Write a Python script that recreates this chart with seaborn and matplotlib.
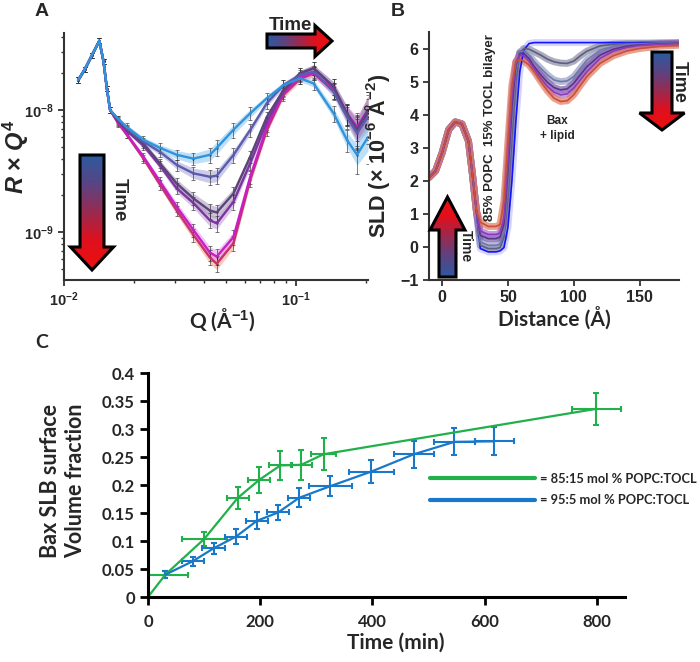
import numpy as np
import pandas as pd
import matplotlib
matplotlib.use('Agg')
import matplotlib.pyplot as plt
import seaborn as sns
from matplotlib.colors import LinearSegmentedColormap
from matplotlib.patches import Polygon
from matplotlib.lines import Line2D

# ---- panel A: R*Q^4 vs Q, fits ----
q = [0.0115, 0.0123, 0.0132, 0.0142, 0.0148, 0.0153, 0.0158,
     0.0171, 0.0186, 0.0220, 0.0259, 0.0306, 0.0361, 0.0425, 0.0455, 0.0537,
     0.0634, 0.0748, 0.0882, 0.104, 0.119, 0.145, 0.1655, 0.183, 0.204]
rq4_head = [1.76e-8, 2.16e-8, 2.82e-8, 3.7e-8, 2.5e-8, 1.5e-8, 1.0e-8]
rq4_blue = rq4_head + [8.5e-9, 7.3e-9, 5.7e-9, 4.9e-9, 4.3e-9, 4.0e-9, 4.3e-9, 4.9e-9, 6.9e-9,
                       9.4e-9, 1.25e-8, 1.6e-8, 1.82e-8, 1.65e-8, 9.4e-9, 5.7e-9, 4.3e-9, 6.0e-9]
rq4_slate = rq4_head + [8.4e-9, 7.1e-9, 5.5e-9, 4.55e-9, 3.55e-9, 3.03e-9, 2.84e-9, 2.9e-9, 4.28e-9,
                        6.86e-9, 1.14e-8, 1.6e-8, 1.94e-8, 2.06e-8, 1.41e-8, 8.8e-9, 6.44e-9, 8.8e-9]
rq4_dark = rq4_head + [8.2e-9, 6.9e-9, 5.3e-9, 3.66e-9, 2.5e-9, 1.89e-9, 1.5e-9, 1.45e-9, 2.07e-9,
                       4.15e-9, 8.8e-9, 1.46e-8, 2.0e-8, 2.2e-8, 1.55e-8, 9.4e-9, 6.9e-9, 1.0e-8]
rq4_purple = rq4_head + [8.1e-9, 6.8e-9, 5.1e-9, 3.5e-9, 2.28e-9, 1.73e-9, 1.25e-9, 1.18e-9, 1.77e-9,
                         3.66e-9, 8.0e-9, 1.42e-8, 2.0e-8, 2.2e-8, 1.55e-8, 9.2e-9, 6.7e-9, 9.5e-9]
rq4_magenta = rq4_head + [7.9e-9, 6.4e-9, 4.14e-9, 2.6e-9, 1.61e-9, 1.04e-9, 6.8e-10, 6.3e-10, 9.1e-10,
                          2.84e-9, 7.3e-9, 1.37e-8, 1.87e-8, 2.0e-8, 1.46e-8, 9.4e-9, 7.3e-9, 1.0e-8]
rq4_orange = rq4_head + [7.8e-9, 6.3e-9, 4.0e-9, 2.45e-9, 1.5e-9, 9.5e-10, 6.2e-10, 5.5e-10, 8.1e-10,
                         2.67e-9, 6.86e-9, 1.33e-8, 1.8e-8, 2.0e-8, 1.46e-8, 9.2e-9, 7.0e-9, 1.0e-8]
# relative data error and fit band half width along q
rel_err = [0.06, 0.05, 0.05, 0.05, 0.05, 0.05, 0.05, 0.06, 0.07, 0.08, 0.09, 0.1, 0.12,
           0.14, 0.15, 0.14, 0.12, 0.1, 0.1, 0.1, 0.12, 0.15, 0.2, 0.3, 0.4]
rel_band = [0.03, 0.03, 0.03, 0.03, 0.03, 0.03, 0.03, 0.03, 0.04, 0.05, 0.06, 0.08, 0.1,
            0.12, 0.12, 0.1, 0.08, 0.06, 0.06, 0.06, 0.07, 0.1, 0.15, 0.22, 0.3]

# ---- panel B: SLD profiles ----
sld_x = [-10, -5, 0, 5, 10, 15, 20, 23, 26,
         29, 35, 41, 44, 47, 50, 53, 56, 59, 62, 66, 70, 75, 80, 85, 90, 95,
         100, 105, 110, 120, 130, 140, 150, 165, 180]
sld_head = [2.1, 2.3, 2.85, 3.55, 3.78, 3.72, 3.2, 2.2, 1.1]
sld_blue = sld_head + [-0.05, -0.15, -0.15, -0.12, -0.02, 0.6, 2.0, 3.8, 5.3, 5.95, 6.15, 6.18, 6.18,
                       6.18, 6.18, 6.18, 6.18, 6.18, 6.18, 6.18, 6.18, 6.18, 6.18, 6.18, 6.18, 6.18]
sld_grey = sld_head + [0.05, -0.05, -0.05, -0.02, 0.3, 1.5, 3.3, 5.0, 5.85, 6.0, 5.98, 5.9, 5.8,
                       5.68, 5.6, 5.56, 5.55, 5.62, 5.78, 5.92, 6.08, 6.13, 6.15, 6.15, 6.16, 6.17]
sld_slate = sld_head + [0.15, 0.05, 0.05, 0.08, 0.45, 1.9, 3.8, 5.3, 5.9, 5.92, 5.8, 5.6, 5.4,
                        5.2, 5.05, 5.0, 5.02, 5.15, 5.4, 5.65, 5.95, 6.07, 6.12, 6.14, 6.16, 6.17]
sld_dark = sld_head + [0.35, 0.25, 0.25, 0.3, 0.7, 2.3, 4.2, 5.5, 5.85, 5.85, 5.7, 5.45, 5.2,
                       4.98, 4.82, 4.75, 4.78, 4.95, 5.2, 5.45, 5.8, 5.98, 6.07, 6.11, 6.14, 6.16]
sld_purple = sld_head + [0.48, 0.38, 0.38, 0.42, 0.9, 2.6, 4.5, 5.6, 5.8, 5.78, 5.62, 5.38, 5.1,
                         4.85, 4.68, 4.6, 4.63, 4.8, 5.05, 5.3, 5.7, 5.92, 6.03, 6.09, 6.13, 6.15]
sld_red = sld_head + [0.75, 0.62, 0.62, 0.68, 1.4, 3.2, 4.9, 5.6, 5.68, 5.62, 5.5, 5.3, 5.0,
                      4.72, 4.5, 4.4, 4.42, 4.6, 4.88, 5.15, 5.55, 5.78, 5.92, 6.0, 6.07, 6.1]

# ---- panel C: Bax volume fraction vs time ----
t_85 = [0, 31, 100, 160, 198, 236, 273, 313, 799]
v_85 = [0, 0.040, 0.1035, 0.177, 0.209, 0.235, 0.236, 0.255, 0.336]
terr_85 = [0, 40, 40, 20, 20, 20, 19, 22, 44]
verr_85 = [0, 0.006, 0.012, 0.02, 0.024, 0.026, 0.027, 0.029, 0.028]
t_95 = [31, 80, 117, 157, 194, 232, 269, 325, 398, 474, 546, 617]
v_95 = [0.040, 0.064, 0.087, 0.108, 0.136, 0.151, 0.177, 0.198, 0.224, 0.255, 0.277, 0.278]
terr_95 = [0, 20, 20, 20, 20, 20, 19, 38, 40, 36, 37, 35]
verr_95 = [0.006, 0.008, 0.01, 0.013, 0.015, 0.014, 0.017, 0.018, 0.02, 0.024, 0.024, 0.025]
legend_labels = ['= 85:15 mol % POPC:TOCL', '= 95:5 mol % POPC:TOCL']

W, H = 700, 662
time_cmap = LinearSegmentedColormap.from_list('time', ['#2c5aa0', '#5a4482', '#9a2a50', '#e0101c', '#ea1010'])


def rect(l, t, r, b):
    return [l / W, 1 - b / H, (r - l) / W, (b - t) / H]


def style_axis(ax, lw=1.5, color='#333333'):
    sns.despine(ax=ax)
    for s in ['left', 'bottom']:
        ax.spines[s].set_linewidth(lw)
        ax.spines[s].set_color(color)
    ax.tick_params(which='major', direction='out', length=4, width=1.3, color=color)
    ax.tick_params(which='minor', direction='out', length=2.5, width=1.0, color=color)


def grad_arrow(ax, tail, head, body_w, head_w, head_len):
    tail = np.array(tail, float)
    head = np.array(head, float)
    d = head - tail
    L = np.hypot(d[0], d[1])
    u = d / L
    n = np.array([-u[1], u[0]])
    base = head - u * head_len
    pts = [tail + n * body_w / 2, base + n * body_w / 2, base + n * head_w / 2, head,
           base - n * head_w / 2, base - n * body_w / 2, tail - n * body_w / 2]
    xs = [p[0] for p in pts]
    ys = [p[1] for p in pts]
    x0, x1, y0, y1 = min(xs), max(xs), min(ys), max(ys)
    gx, gy = np.meshgrid(np.linspace(x0, x1, 120), np.linspace(y0, y1, 120))
    t = ((gx - tail[0]) * u[0] + (gy - tail[1]) * u[1]) / L
    im = ax.imshow(t, cmap=time_cmap, vmin=0, vmax=1, extent=(x0, x1, y1, y0),
                   origin='upper', aspect='auto', zorder=2)
    poly = Polygon(pts, closed=True, fc='none', ec='black', lw=2.2, joinstyle='miter', zorder=3)
    ax.add_patch(poly)
    im.set_clip_path(poly)


sns.set_style('ticks')
plt.rcParams['font.family'] = ['Liberation Sans', 'DejaVu Sans']
plt.rcParams['font.weight'] = 'bold'
plt.rcParams['axes.labelweight'] = 'bold'
plt.rcParams['mathtext.fontset'] = 'custom'
plt.rcParams['mathtext.rm'] = 'Liberation Sans:bold'
plt.rcParams['mathtext.it'] = 'Liberation Sans:italic:bold'
plt.rcParams['mathtext.bf'] = 'Liberation Sans:bold'
plt.rcParams['mathtext.default'] = 'rm'

fig = plt.figure(figsize=(W / 100, H / 100), dpi=100)

# ---------------- A ----------------
ax = fig.add_axes(rect(64, 33, 368, 280))
curves_a = [rq4_orange, rq4_magenta, rq4_purple, rq4_dark, rq4_slate, rq4_blue]
names_a = ['t6', 't5', 't4', 't3', 't2', 't1']
lines_a = ['#c8306e', '#c81ec8', '#7a35a0', '#5c4478', '#5a5cae', '#2f94dc']
bands_a = ['#ec9a78', '#e48ae4', '#b48cd0', '#9c8cb4', '#9a98d4', '#7cc0f0']
qa = np.array(q)
for vals, bc in zip(curves_a, bands_a):
    v = np.array(vals)
    b = np.array(rel_band)
    ax.fill_between(qa, v / (1 + b), v * (1 + b), color=bc, alpha=0.5, lw=0, zorder=1)
for vals in curves_a:
    v = np.array(vals)
    ax.errorbar(qa, v, yerr=v * np.array(rel_err), fmt='.', ms=1.5, color='#222222',
                ecolor='#333333', elinewidth=0.6, capsize=1.6, capthick=0.6, alpha=0.75, zorder=2)
fits = pd.DataFrame({'Q': list(q) * len(curves_a),
                     'R': sum(curves_a, []),
                     'run': np.repeat(names_a, len(q))})
sns.lineplot(data=fits, x='Q', y='R', hue='run', palette=dict(zip(names_a, lines_a)),
             estimator=None, sort=False, lw=1.7, legend=False, ax=ax, zorder=3)
ax.set_xscale('log')
ax.set_yscale('log')
ax.set_xlim(0.01, 0.204)
ax.set_ylim(4.05e-10, 4.28e-8)
style_axis(ax)
ax.tick_params(labelsize=10.5)
ax.set_xlabel('Q (Å$^{-1}$)', fontsize=15, fontfamily='Lato')
ax.set_ylabel(r'$\mathit{R}$ × $\mathit{Q}^{4}$', fontsize=17)
ax.xaxis.set_label_coords(0.52, -0.105)
ax.yaxis.set_label_coords(-0.108, 0.5)

# ---------------- B ----------------
axb = fig.add_axes(rect(429, 32, 679, 280))
curves_b = [sld_blue, sld_grey, sld_slate, sld_dark, sld_purple, sld_red]
names_b = ['p0', 'p1', 'p2', 'p3', 'p4', 'p5']
lines_b = ['#1414ff', '#5e5e80', '#7078a8', '#56368a', '#8a3cb8', '#c8503c']
bands_b = ['#c4c4ff', '#8a8aa4', '#98a0c8', '#7a5aa8', '#a870d0', '#e0785c']
prof = pd.DataFrame({'z': list(sld_x) * len(curves_b),
                     'sld': sum(curves_b, []),
                     'run': np.repeat(names_b, len(sld_x))})
sns.lineplot(data=prof, x='z', y='sld', hue='run', palette=dict(zip(names_b, bands_b)),
             estimator=None, sort=False, lw=5, alpha=0.7, legend=False, ax=axb)
sns.lineplot(data=prof, x='z', y='sld', hue='run', palette=dict(zip(names_b, lines_b)),
             estimator=None, sort=False, lw=1.2, legend=False, ax=axb)
axb.set_xlim(-10, 180)
axb.set_ylim(-1, 6.5)
axb.set_xticks([0, 50, 100, 150])
axb.set_yticks(range(-1, 7))
style_axis(axb)
axb.tick_params(labelsize=11.5)
axb.set_xlabel('Distance (Å)', fontsize=15, fontfamily='Lato')
axb.set_ylabel('SLD (× 10$^{-6}$ Å$^{-2}$)', fontsize=15.5)
axb.xaxis.set_label_coords(0.5, -0.105)
axb.yaxis.set_label_coords(-0.15, 0.5)
axb.text(36.7, 3.62, '85% POPC  15% TOCL bilayer', rotation=90, ha='center', va='center', fontsize=9.5)
axb.text(87.6, 3.59, 'Bax\n+ lipid', ha='center', va='center', fontsize=8.5, linespacing=1.3)

# ---------------- C ----------------
axc = fig.add_axes(rect(148, 373, 625, 597))
green, blue = '#22b04a', '#1a78c8'
axc.errorbar(t_85, v_85, xerr=terr_85, yerr=verr_85, fmt='none', ecolor=green,
             elinewidth=1.5, capsize=2, capthick=1.5)
axc.errorbar(t_95, v_95, xerr=terr_95, yerr=verr_95, fmt='none', ecolor=blue,
             elinewidth=1.5, capsize=2, capthick=1.5)
kin = pd.DataFrame({'time': t_85 + t_95, 'frac': v_85 + v_95,
                    'mix': ['85:15'] * len(t_85) + ['95:5'] * len(t_95)})
sns.lineplot(data=kin, x='time', y='frac', hue='mix', palette={'85:15': green, '95:5': blue},
             estimator=None, sort=False, lw=1.6, legend=False, ax=axc)
axc.set_xlim(0, 850)
axc.set_ylim(0, 0.4)
yt = [0, 0.05, 0.1, 0.15, 0.2, 0.25, 0.3, 0.35, 0.4]
axc.set_yticks(yt, labels=['0', '0.05', '0.1', '0.15', '0.2', '0.25', '0.3', '0.35', '0.4'],
               fontfamily='Lato', fontsize=12, fontweight='bold')
axc.set_xticks([0, 200, 400, 600, 800], labels=['0', '200', '400', '600', '800'],
               fontfamily='Lato', fontsize=12, fontweight='bold')
style_axis(axc, lw=2.2, color='black')
axc.tick_params(which='major', length=6, width=2)
axc.tick_params(axis='x', pad=6)
axc.set_xlabel('Time (min)', fontsize=15, fontfamily='Lato')
axc.set_ylabel('Bax SLB surface\nVolume fraction', fontsize=15.5, fontfamily='Lato', linespacing=1.25)
axc.xaxis.set_label_coords(0.52, -0.16)
axc.yaxis.set_label_coords(-0.13, 0.52)
handles = [Line2D([], [], color=green, lw=3), Line2D([], [], color=blue, lw=3)]
axc.legend(handles, legend_labels, loc='upper left', bbox_to_anchor=(430 / W, 1 - 473 / H),
           bbox_transform=fig.transFigure, frameon=False, handlelength=8.1, handletextpad=0.45,
           labelspacing=0.7, borderpad=0, borderaxespad=0,
           prop={'family': 'Lato', 'weight': 'bold', 'size': 9.3})

# ---------------- overlay: arrows and panel letters ----------------
ov = fig.add_axes([0, 0, 1, 1], zorder=10)
ov.set_axis_off()
grad_arrow(ov, (267, 41), (332, 41), 14, 31, 17)
grad_arrow(ov, (92, 155), (92, 270), 24, 43, 23)
grad_arrow(ov, (447.5, 277), (447.5, 197), 17, 35, 33)
grad_arrow(ov, (662, 52), (662, 130), 20, 45, 17)
ov.set_xlim(0, W)
ov.set_ylim(H, 0)
ov.text(290, 26, 'Time', ha='center', va='center', fontsize=13.5)
ov.text(119, 200, 'Time', rotation=270, ha='center', va='center', fontsize=13.5)
ov.text(466, 246, 'Time', rotation=270, ha='center', va='center', fontsize=10)
ov.text(679, 82, 'Time', rotation=270, ha='center', va='center', fontsize=13)
ov.text(42, 12, 'A', ha='center', va='center', fontsize=14)
ov.text(398, 12, 'B', ha='center', va='center', fontsize=14)
ov.text(42, 343, 'C', ha='center', va='center', fontsize=14, fontfamily='Lato')

fig.savefig('out.png', dpi=100)
